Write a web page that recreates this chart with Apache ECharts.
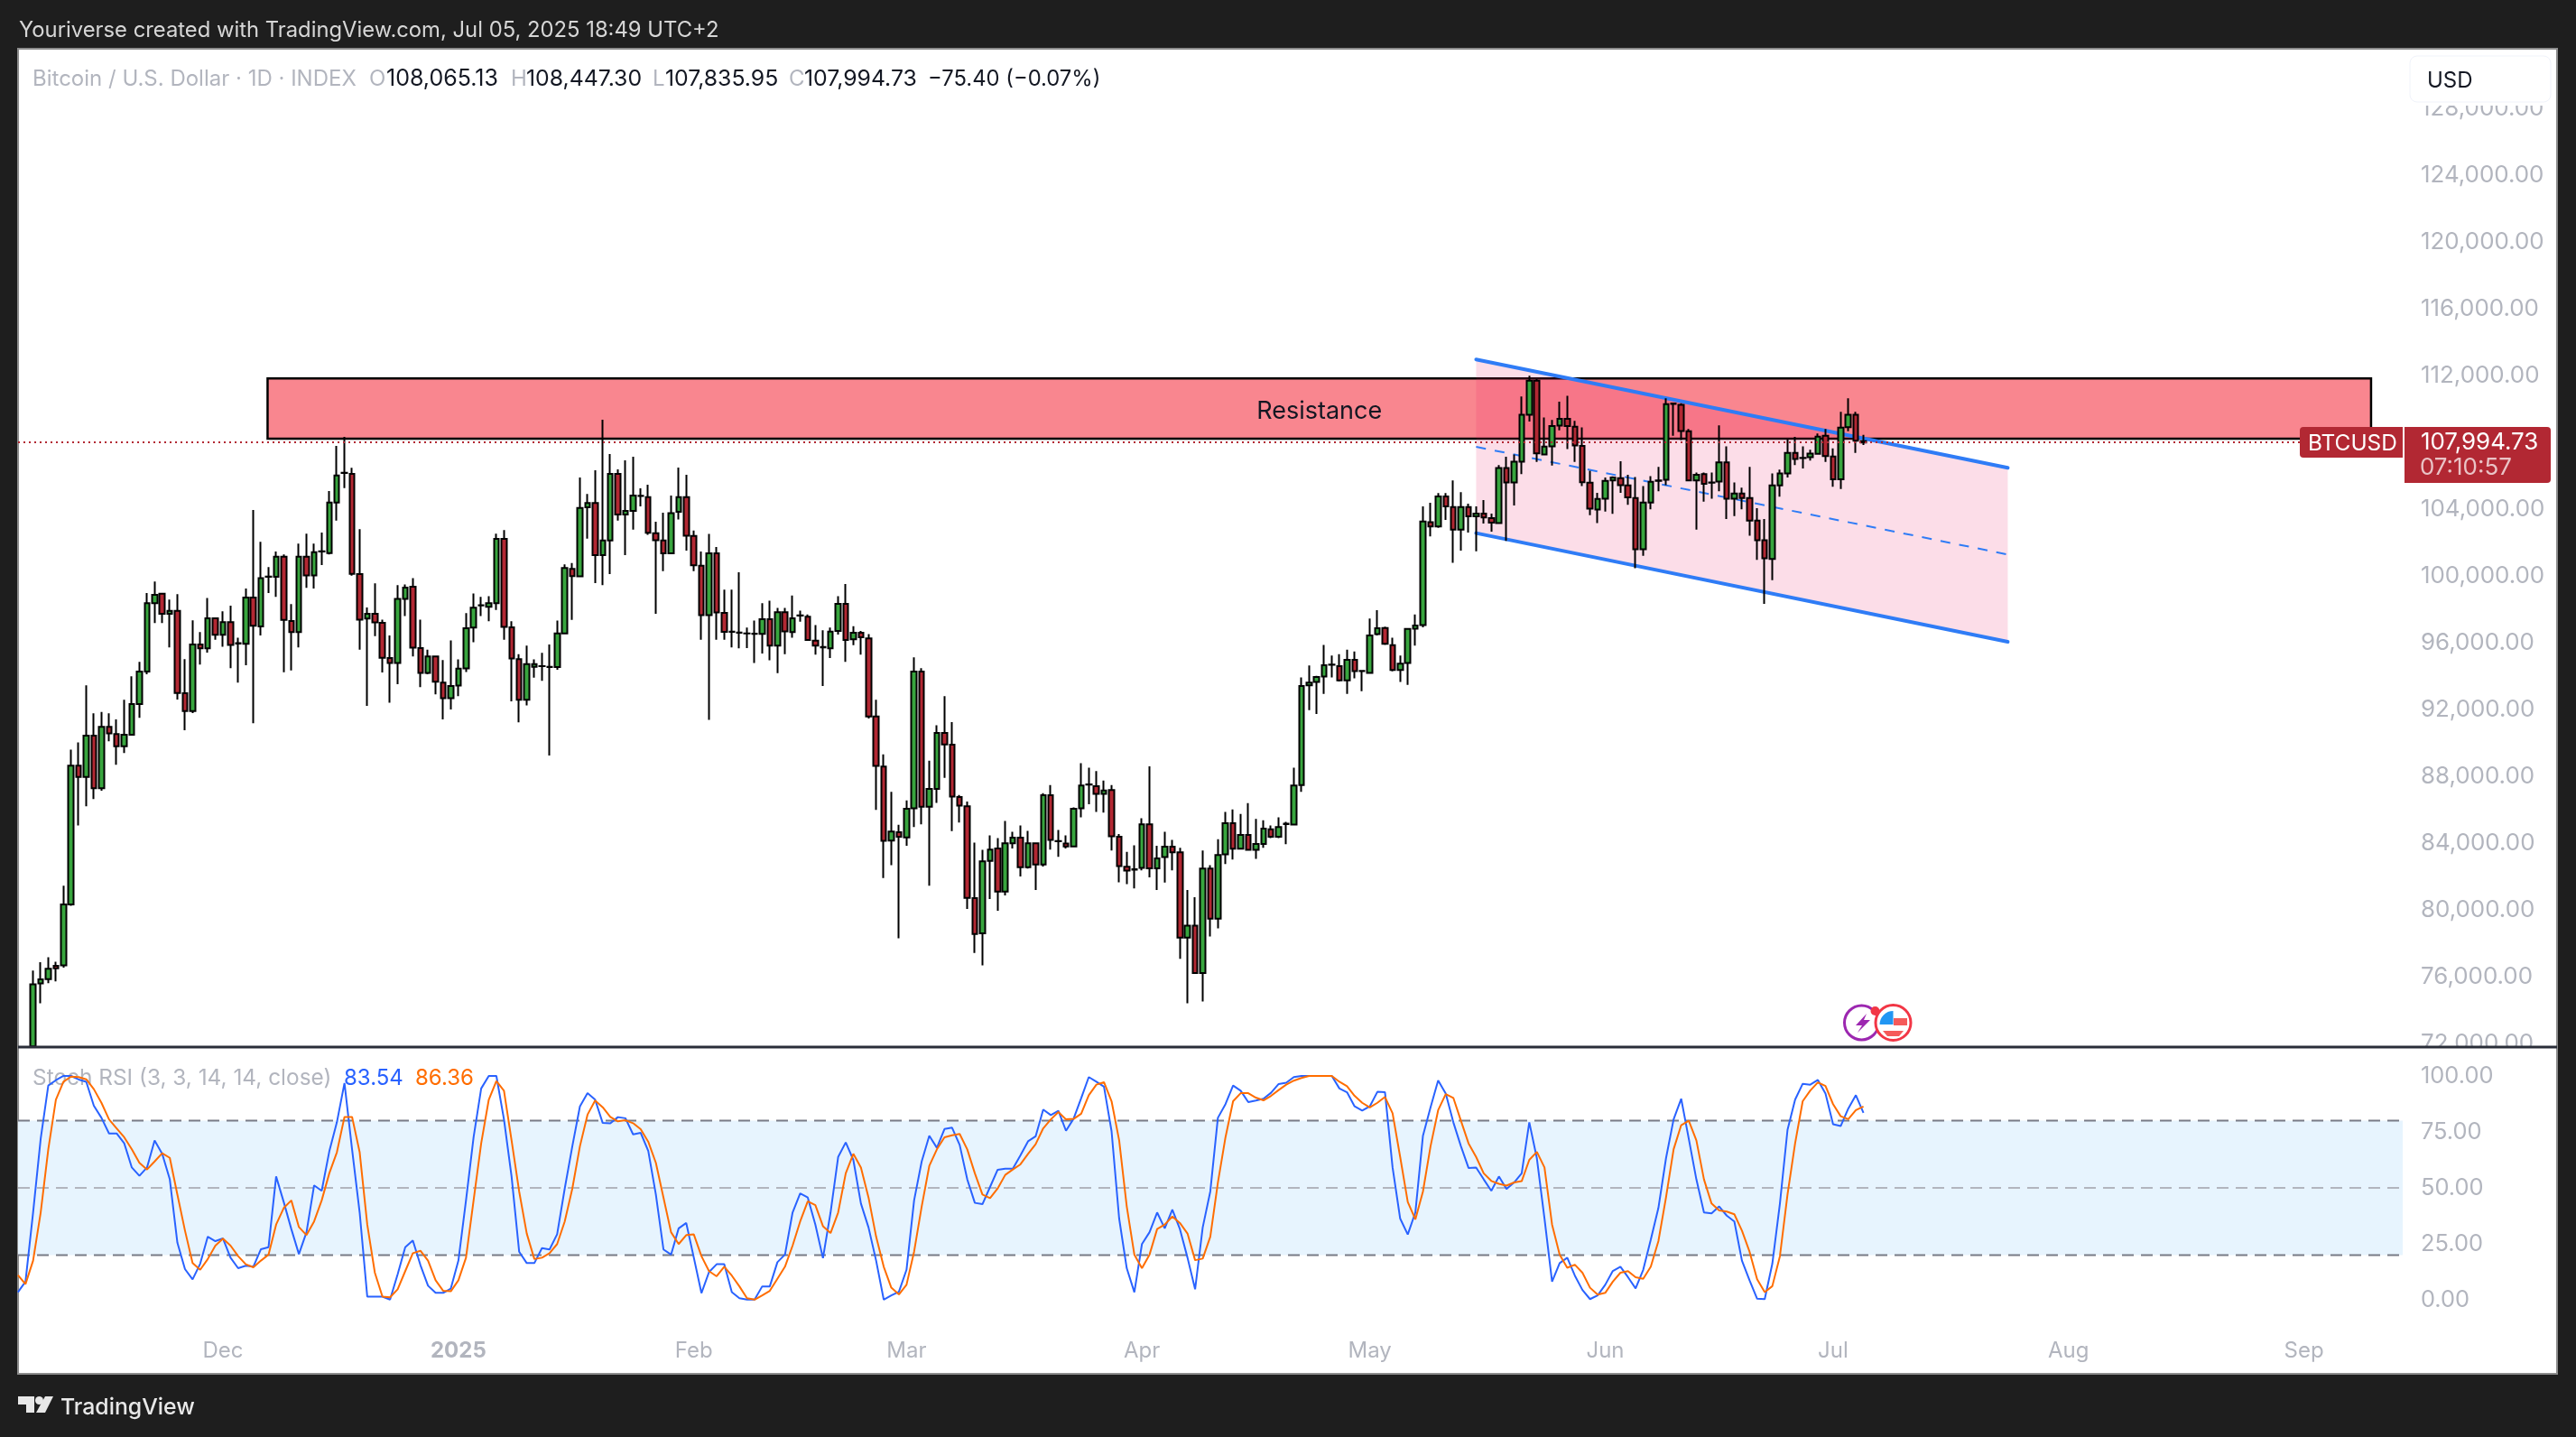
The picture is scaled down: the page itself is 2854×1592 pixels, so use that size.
<!DOCTYPE html>
<html>
<head>
<meta charset="utf-8">
<style>html,body{margin:0;padding:0;background:#1e1e1e}#c{width:2854px;height:1592px}</style>
<script src="https://cdn.jsdelivr.net/npm/echarts@6/dist/echarts.min.js"></script>
</head>
<body>
<div id="c"></div>
<script>
// Candles, [open, close, low, high] in thousands of USD, one row per day from 2024-11-06.
// The first candle's open and low lie below the visible range, so they are held at its lower edge.
const candlesNov = [[71.66,75.38,71.66,76.2],[75.43,75.68,74.25,76.7],[75.69,76.31,75.45,77.0],[76.49,76.34,75.55,76.73],[76.52,80.16,76.38,81.28],[80.16,88.48,80.08,89.44],[88.48,87.8,84.9,89.87],[87.8,90.27,86.04,93.29],[90.27,87.12,86.47,91.61],[87.12,90.8,86.97,91.69],[90.8,90.41,89.93,91.61],[90.37,89.64,88.53,91.24],[89.64,90.33,89.23,92.42],[90.33,92.17,90.29,93.83],[92.17,94.11,91.34,94.69],[94.11,98.21,93.95,98.81],[98.21,98.71,97.01,99.5],[98.77,97.57,97.01,98.77],[97.57,97.74,95.56,98.42],[97.74,92.83,92.44,98.75],[92.81,91.75,90.6,94.86],[91.75,95.73,91.63,97.18],[95.73,95.5,94.53,96.47],[95.5,97.3,95.25,98.52],[97.3,96.31,96.02,97.3]];
const candlesDec = [[96.31,97.07,95.6,97.72],[97.07,95.71,94.32,98.05],[95.79,95.82,93.45,96.14],[95.77,98.54,94.49,99.08],[98.54,96.85,91.01,103.78],[96.81,99.7,96.27,101.88],[99.78,99.8,98.81,100.37],[99.79,100.99,98.59,101.3],[100.99,97.2,94.07,101.13],[97.14,96.47,94.18,98.15],[96.47,100.99,95.56,101.77],[100.99,99.87,99.12,102.37],[99.87,101.26,99.08,101.77],[101.3,101.31,100.49,102.44],[101.2,104.23,101.12,104.92],[104.23,105.86,103.15,107.62],[106.0,106.01,105.1,108.16],[105.95,99.96,99.86,106.31],[99.95,97.22,95.42,102.64],[97.28,97.57,92.05,97.95],[97.57,97.05,96.23,99.39],[97.03,94.94,94.05,97.22],[94.92,94.63,92.25,96.27],[94.63,98.46,93.35,99.29],[98.46,99.14,97.43,99.33],[99.19,95.54,95.02,99.7],[95.52,94.03,93.18,97.22],[94.03,95.02,93.95,95.42],[95.02,93.5,92.75,95.02],[93.45,92.52,91.24,94.8],[92.52,93.25,91.84,95.98]];
const candlesJan = [[93.27,94.28,92.64,94.84],[94.3,96.7,94.09,97.61],[96.74,97.94,95.87,98.79],[98.07,98.08,97.43,98.58],[97.99,98.2,97.12,98.63],[98.2,102.06,97.8,102.37],[102.06,96.79,96.02,102.58],[96.76,94.9,92.33,97.12],[94.86,92.42,91.07,95.15],[92.42,94.55,92.09,95.67],[94.4,94.55,93.74,94.84],[94.43,94.44,93.56,95.23],[94.4,94.38,89.09,95.73],[94.38,96.39,94.22,97.16],[96.39,100.32,96.39,100.53],[100.26,99.83,97.2,100.61],[99.82,103.91,99.82,105.73],[103.95,104.2,102.07,104.74],[104.2,101.08,99.41,106.16],[101.08,101.96,99.29,109.19],[101.96,105.95,99.95,107.14],[105.95,103.51,103.15,106.22],[103.51,103.73,101.08,106.76],[103.73,104.65,102.61,106.97],[104.63,104.64,104.0,105.08],[104.56,102.42,102.3,105.3],[102.39,101.98,97.57,103.08],[101.96,101.19,100.12,103.62],[101.19,103.6,101.19,104.65],[103.68,104.56,103.22,106.33],[104.56,102.25,101.36,105.9]];
const candlesFeb = [[102.23,100.47,100.12,102.56],[100.45,97.49,96.02,101.3],[97.49,101.19,91.22,102.35],[101.19,97.65,96.02,101.57],[97.63,96.49,96.02,99.02],[96.5,96.49,95.56,99.02],[96.45,96.43,95.5,100.05],[96.4,96.39,95.52,96.74],[96.37,96.38,94.63,97.16],[96.37,97.24,95.19,98.21],[97.24,95.67,94.78,98.36],[95.67,97.67,94.01,97.92],[97.67,96.51,95.15,97.92],[96.47,97.3,96.14,98.67],[97.47,97.46,97.1,97.76],[97.4,96.0,96.0,97.53],[95.96,95.67,95.13,96.89],[95.58,95.56,93.24,96.58],[95.5,96.5,94.92,96.74],[96.54,98.17,96.33,98.63],[98.17,96.0,94.69,99.35],[96.04,96.43,95.69,96.83],[96.43,96.16,95.13,96.54],[96.1,91.42,91.3,96.35],[91.42,88.46,85.83,92.42],[88.42,83.97,81.74,89.15],[83.99,84.53,82.52,86.91],[84.49,84.22,78.14,84.94]];
const candlesMar = [[84.18,85.9,83.68,86.39],[85.92,94.11,84.8,94.96],[94.11,86.02,84.96,94.32],[86.02,87.08,81.28,88.77],[87.08,90.43,86.25,90.9],[90.43,89.75,87.74,92.64],[89.73,86.62,84.55,91.09],[86.6,86.08,85.07,86.72],[86.04,80.56,79.9,86.33],[80.54,78.4,77.26,83.87],[78.44,82.75,76.52,83.43],[82.77,83.45,80.49,84.3],[83.52,80.93,79.79,84.14],[80.93,83.83,80.7,85.17],[83.83,84.16,83.52,84.51],[84.16,82.4,81.84,84.9],[82.4,83.83,82.31,84.57],[83.83,82.56,81.03,83.83],[82.56,86.7,82.44,86.83],[86.7,84.03,83.45,87.32],[83.95,83.96,83.02,84.63],[83.81,83.64,83.52,84.3],[83.64,85.9,83.64,85.98],[85.92,87.28,85.38,88.63],[87.34,87.35,86.17,88.36],[87.24,86.79,85.71,88.15],[86.79,86.99,85.67,87.59],[87.01,84.24,83.39,87.32],[84.22,82.46,81.49,84.38],[82.42,82.19,81.38,83.31],[82.25,82.27,81.13,83.7]];
const candlesApr = [[82.36,84.96,82.21,85.32],[84.96,82.32,81.78,88.44],[82.32,82.92,81.03,83.68],[83.0,83.62,81.47,84.51],[83.62,83.29,82.21,84.03],[83.29,78.18,76.91,83.56],[78.18,78.9,74.24,81.03],[78.9,76.06,76.0,80.6],[76.06,82.31,74.35,83.39],[82.31,79.31,78.24,82.52],[79.31,83.12,78.73,84.07],[83.16,85.03,82.58,85.71],[85.03,83.5,82.85,85.85],[83.5,84.32,83.5,85.59],[84.32,83.44,83.44,86.23],[83.44,83.78,82.89,85.28],[83.78,84.7,83.56,85.2],[84.66,84.22,84.14,84.9],[84.22,84.8,84.14,85.38],[84.97,85.0,83.77,85.11],[84.95,87.28,84.95,88.36],[87.32,93.25,86.91,93.76],[93.29,93.45,91.8,94.47],[93.49,93.78,91.57,93.85],[93.81,94.49,92.77,95.71],[94.52,94.53,93.76,95.07],[94.43,93.58,93.52,95.15],[93.58,94.82,92.77,95.42],[94.82,94.14,93.7,95.31],[94.14,94.15,92.93,94.14]];
const candlesMay = [[94.03,96.27,94.03,97.28],[96.35,96.7,96.27,97.78],[96.72,95.77,95.71,96.8],[95.69,94.2,94.12,96.14],[94.2,94.59,93.49,95.07],[94.63,96.66,93.31,96.66],[96.68,96.87,95.67,97.53],[96.89,103.1,96.76,104.0],[103.05,102.8,102.2,104.22],[102.8,104.6,102.72,104.8],[104.6,104.0,103.19,104.8],[103.96,102.61,100.63,105.56],[102.61,103.96,101.35,104.86],[103.96,103.41,102.43,104.17],[103.41,103.57,101.31,104.0],[103.57,103.34,102.98,104.38],[103.3,103.03,102.49,103.57],[103.0,106.3,103.0,106.48],[106.3,105.44,101.94,106.97],[105.44,106.68,104.05,107.11],[106.68,109.49,105.94,110.59],[109.49,111.53,109.09,111.83],[111.53,107.18,106.66,111.62],[107.11,107.58,107.11,109.33],[107.6,108.82,106.45,109.18],[108.84,109.24,108.55,110.27],[109.24,108.81,107.44,110.63],[108.77,107.65,106.66,109.13],[107.62,105.45,105.22,108.73],[105.42,103.87,103.47,106.14],[103.82,104.45,103.0,104.81]];
const candlesJun = [[104.46,105.53,103.69,105.73],[105.55,105.73,103.56,105.8],[105.69,105.27,104.82,106.7],[105.26,104.54,104.1,105.89],[104.5,101.44,100.3,105.76],[101.44,104.23,101.04,105.22],[104.23,105.47,103.83,105.82],[105.55,105.53,104.91,106.37],[105.6,110.12,105.27,110.48],[110.16,110.14,108.23,110.21],[110.09,108.52,107.98,110.18],[108.5,105.55,105.55,108.64],[105.55,105.9,102.61,106.03],[105.94,105.35,104.28,106.03],[105.42,105.43,104.46,106.03],[105.49,106.64,104.91,108.86],[106.64,104.46,103.24,107.6],[104.46,104.77,103.42,105.44],[104.77,104.5,103.83,105.13],[104.5,103.15,102.25,106.37],[103.15,101.98,100.8,103.9],[101.98,100.9,98.17,103.24],[100.86,105.26,99.58,105.98],[105.26,105.98,104.59,106.21],[105.98,107.2,105.73,108.01],[107.2,106.84,106.48,108.16],[106.9,106.91,106.27,107.6],[106.95,107.17,106.75,107.4],[107.15,108.18,107.11,108.37],[108.23,107.02,106.66,108.64]];
const candlesJul = [[106.99,105.62,105.18,107.47],[105.62,108.72,105.04,109.67],[108.75,109.49,108.5,110.48],[109.49,107.94,107.2,109.67],[107.91,107.83,107.68,108.29]];
// The candles were read against the tick labels, which sit slightly above their true level.
const READ_CORRECTION = 0.16;

// Stoch RSI, one value per day from 2024-11-04.
const stochK = [3.4,8.1,39,71.9,95.7,98.1,100,100,98.4,97.4,86.7,81.3,74.3,74.3,69.9,59.1,55.4,59.1,71.2,65.2,53.8,25.5,13.7,9.1,16.1,28.2,26.2,27.4,18.8,14.1,15.2,14.8,22.6,23.5,55.1,43.7,31.6,20.4,30.2,51.1,48.7,66.3,79.3,96.8,67.2,39,1.4,1.4,1.4,0.1,11.4,23.5,26.5,15.5,6.3,3.1,3.1,5,17.5,44.4,72.6,94.4,100,100,80.6,55.1,21.5,16.4,16.4,23.1,22.5,29.3,49.7,68.6,86.4,92.3,89.4,79,78.8,81.6,81.1,73.9,74.6,66.5,47,22.5,20.2,31.9,34.3,18.8,3,12.4,15.9,15.9,3.4,0.7,0.1,0.1,6,6,16.8,20.2,39,47.5,45.7,33.6,18.6,39,63.8,70.3,62.5,43,32.3,17.5,0.1,2,3.6,
13.4,44.4,61.8,73.3,67.9,76.3,76.9,69.2,53.8,43.3,42.7,50.4,58.1,58.6,58.6,64.5,70.8,73,85,82.5,84.4,75.5,80.9,90.1,99.5,97.4,95.2,75.3,36.3,14.1,3.4,24.9,30.2,39,31.9,40.3,31.6,18.8,4.7,32.3,48.4,81.3,87.4,95.7,93.4,88.3,89,89.8,92.5,96.4,97,99.5,100,100,100,100,100,94.4,92.7,86.4,84.5,86.4,92.9,92.7,59.1,36.3,29.2,39,73.3,86,98,92.1,79.3,68.6,58.9,59.1,53.8,48.7,55.1,49.5,52.4,56.5,79.3,63.2,36.3,8.1,16.4,18.8,10.8,4.4,0.3,2,6.7,12.9,14.8,10.1,5.1,13.4,26.9,41,63.2,80.6,89.8,71.9,53.8,39,38.6,41.7,37.6,35,17.5,8.7,0.5,0.3,16.1,43,75.9,89.4,96.5,
96.1,98.2,92.1,78.4,77.6,85.4,91.4,83.54];
const stochD = [11,7,17.5,39,67.2,89.4,97.4,99.7,99.5,98.5,94.1,88,80.6,76.6,72.6,67.2,61.2,58.2,61.8,65.5,63.4,47,30.9,16.4,13.4,18.2,24.2,27.3,24.2,19.5,15.9,14.5,17.5,20.2,33.6,41,44.4,32.5,28.9,35,44.4,56.5,65.9,81.7,81.7,65.9,33.6,12.1,1.4,1.1,4.7,12.8,20.8,21.9,17.5,8.7,4,3.8,8.7,18.8,44.4,69.9,89.4,97.7,93.4,71.2,48.4,29.6,18.2,18.8,20.8,24.9,35,49.7,68.6,82.7,89,86,81.7,79.7,80.2,78.9,76.2,70.6,61.2,45.7,30.2,24.9,28.9,29.2,19.5,12.8,10.5,14.8,10.8,6,0.7,0.1,2,4,9.4,14.8,24.2,35,44,42.3,32.9,29.8,39,56.5,65.2,59.1,45.7,28.2,14.8,5.4,2.4,
6.7,21.5,41.7,59.8,67.2,72.6,73.5,74.1,67.2,56.5,47,45.4,49.7,55.8,58.2,60.5,65.2,69.5,76.6,80.6,83.9,80.6,80.8,83.1,91.4,96.1,97.2,88.7,71.2,41.7,20.2,14.1,20.2,31.6,33.6,37.2,34.3,29.6,17.7,18.4,28.2,52.4,72.6,88.7,92.3,92.3,90.3,89.1,91.1,93.7,96.1,97.9,99.1,100,100,100,100,97.4,95.4,91.1,88,85.9,88,90.6,83.3,63.8,43.7,35.9,48.4,68.6,84.7,91.9,90.2,80,69.9,63.8,56.5,53.1,51.8,51,52.4,53,62.5,66.1,59.1,33.6,20.2,14.3,15.7,12.1,5.4,2.3,3.1,8.1,12.1,12.8,10.1,9.4,14.8,26.2,45.7,67.2,78,80,71.2,53.8,43,39.9,39.4,38.2,30.9,21.5,9.2,3.4,6.1,19.5,47,69.9,88.7,
93.5,97.1,95.5,87.4,82,80.7,84.7,86.36];

const priceTicks = [72000,76000,80000,84000,88000,92000,96000,100000,104000,108000,112000,116000,120000,124000,128000];
const rsiTicks = [0,25,50,75,100];
const monthTicks = ['2024-12-01','2025-01-01','2025-02-01','2025-03-01','2025-04-01','2025-05-01','2025-06-01','2025-07-01','2025-08-01','2025-09-01'];
const monthLabels = ['Dec','2025','Feb','Mar','Apr','May','Jun','Jul','Aug','Sep'];
const lastPrice = 107994.73;
const resistance = {start:'2024-12-06T21:00:00Z', end:'2025-09-09T20:00:00Z', top:111820, bottom:108220};
const channelDates = ['2025-05-15','2025-07-24'];
const channelUpper = [112960,106470];
const channelMid = [107730,101280];
const channelLower = [102560,96050];

const DAY = 86400000;
const T = s => Date.parse(s.length > 10 ? s : s + 'T00:00:00Z');
const xMin = T('2024-12-01') - 26.98 * DAY;
const xMax = T('2024-12-01') + 287 * DAY;
const firstCandle = T('2024-11-06');
const firstRsi = T('2024-11-04');
const allCandles = [].concat(candlesNov,candlesDec,candlesJan,candlesFeb,candlesMar,candlesApr,candlesMay,candlesJun,candlesJul);
const candleData = allCandles.map((r,i) => [firstCandle + i*DAY].concat(r.map(v => Math.round((v + READ_CORRECTION)*1000))));
const kData = stochK.map((v,i) => [firstRsi + i*DAY, v]);
const dData = stochD.map((v,i) => [firstRsi + i*DAY, v]);
const BLUE = '#2f7cf6', FONT = 'Inter';
const twoPoints = (dates, vals) => dates.map((d,i) => [T(d), vals[i]]);
const hline = (v, c, axis, extra) => Object.assign({type:'line', xAxisIndex:axis, yAxisIndex:axis, data:[[xMin,v],[xMax,v]], showSymbol:false, silent:true, z:2, lineStyle:{color:c, width:2, type:[13,8]}}, extra||{});

const txt = (x,y,text,fill,size,extra) => ({type:'text', x, y:y+1.5, z:50, silent:true, style:{text, fill, font:(extra&&extra.weight||'400')+' '+size+'px '+FONT, verticalAlign:'middle', align:(extra&&extra.align)||'left'}});
const muted = '#b2b5be', ink = '#131722';
const graphics = [
  {type:'rect', z:-10, silent:true, shape:{x:20,y:54,width:2813,height:1468}, style:{fill:'#ffffff', stroke:'#8c8c8c', lineWidth:2}},
  txt(21,32,'Youriverse created with TradingView.com, Jul 05, 2025 18:49 UTC+2','#d6d6d6',23.8),
  txt(36,86,'Bitcoin / U.S. Dollar · 1D · INDEX',muted,24),
  txt(409,86,'O',muted,24), txt(428,86,'108,065.13',ink,25),
  txt(566,86,'H',muted,24), txt(583,86,'108,447.30',ink,24.8),
  txt(723,86,'L',muted,24), txt(737,86,'107,835.95',ink,24.8),
  txt(874,86,'C',muted,24), txt(891,86,'107,994.73',ink,24.8),
  txt(1028,86,'−75.40 (−0.07%)',ink,23.8),
  // white covers that hide the labels cut off by the pane divider and by the currency box
  {type:'rect', z:40, silent:true, shape:{x:2664,y:1161,width:165,height:14}, style:{fill:'#ffffff'}},
  {type:'rect', z:40, silent:true, shape:{x:2664,y:105,width:165,height:12}, style:{fill:'#ffffff'}},
  {type:'line', z:41, silent:true, shape:{x1:20,y1:1160,x2:2833,y2:1160}, style:{stroke:'#2a2e39', lineWidth:3}},
  {type:'rect', z:42, silent:true, shape:{x:2670,y:62,width:156,height:51,r:8}, style:{fill:'#ffffff', stroke:'#f0f3fa', lineWidth:1}},
  txt(2689,88,'USD',ink,24),
  {type:'rect', z:43, silent:true, shape:{x:2548,y:473,width:114,height:34,r:[4,0,0,4]}, style:{fill:'#b22833'}},
  txt(2557,490,'BTCUSD','#ffffff',24.4),
  {type:'rect', z:43, silent:true, shape:{x:2664,y:473,width:162,height:62,r:[0,4,4,0]}, style:{fill:'#b22833'}},
  txt(2682,489,'107,994.73','#ffffff',25.9),
  txt(2681,517,'07:10:57','rgba(255,255,255,0.72)',25.9),
  Object.assign(txt(36,1193,'Stoch RSI (3, 3, 14, 14, close)',muted,24.4),{z:1}),
  txt(381,1193,'83.54','#2962ff',24), txt(460,1193,'86.36','#ff6d00',24),
  // footer logo
  {type:'polygon', z:50, silent:true, shape:{points:[[20,1547],[38,1547],[38,1565],[29,1565],[29,1556],[20,1556]]}, style:{fill:'#e8e8e8'}},
  {type:'circle', z:50, silent:true, shape:{cx:43.5,cy:1551.5,r:4.5}, style:{fill:'#e8e8e8'}},
  {type:'polygon', z:50, silent:true, shape:{points:[[50,1547],[59,1547],[50,1565],[40,1565]]}, style:{fill:'#e8e8e8'}},
  txt(67,1558,'TradingView','#e8e8e8',24.8,{weight:'500'}),
  // event markers near the time axis
  {type:'circle', z:44, silent:true, shape:{cx:2062.5,cy:1133,r:19}, style:{fill:'#ffffff', stroke:'#9c27b0', lineWidth:3}},
  {type:'polygon', z:44, silent:true, shape:{points:[[2068,1123],[2056,1136],[2063,1136],[2058,1144],[2072,1130],[2065,1130]]}, style:{fill:'#9c27b0'}},
  {type:'circle', z:45, silent:true, shape:{cx:2097.5,cy:1133,r:19.5}, style:{fill:'#ffffff', stroke:'#f23645', lineWidth:3}},
  {type:'sector', z:45, silent:true, shape:{cx:2097.5,cy:1135,r:15,startAngle:Math.PI,endAngle:Math.PI*1.5}, style:{fill:'#2196f3'}},
  {type:'rect', z:45, silent:true, shape:{x:2098,y:1128,width:15,height:8}, style:{fill:'#f55a5a'}},
  {type:'polygon', z:45, silent:true, shape:{points:[[2086,1142],[2109,1142],[2104,1148],[2091,1148]]}, style:{fill:'#f55a5a'}},
  {type:'circle', z:46, silent:true, shape:{cx:2077.5,cy:1120,r:5}, style:{fill:'#f23645'}},
];

const chart = echarts.init(document.getElementById('c'), null, {renderer:'canvas', width:2854, height:1592, devicePixelRatio:1});
// Time runs on a numeric axis in milliseconds, so that the month ticks can be placed exactly.
const baseX = {type:'value', min:xMin, max:xMax, axisLine:{show:false}, axisTick:{show:false}, splitLine:{show:false}};
chart.setOption({
  animation:false,
  backgroundColor:'#1e1e1e',
  tooltip:{show:false},
  graphic:{elements:graphics},
  grid:[
    {left:20, top:54, width:2642, height:1106},
    {left:20, top:1160, width:2642, height:312}
  ],
  xAxis:[
    Object.assign({gridIndex:0, axisLabel:{show:false}}, baseX),
    Object.assign({gridIndex:1, axisLabel:{
      customValues:monthTicks.map(T), margin:13, color:muted, fontFamily:FONT, fontSize:24, hideOverlap:false,
      formatter:v => { const i = monthTicks.map(T).indexOf(v); const s = monthLabels[i]; return s === '2025' ? '{y|2025}' : s; },
      rich:{y:{color:muted, fontFamily:FONT, fontSize:24, fontWeight:700}}
    }}, baseX)
  ],
  yAxis:[
    {gridIndex:0, type:'value', position:'right', min:71784, max:131568, axisLine:{show:false}, axisTick:{show:false}, splitLine:{show:false},
     axisLabel:{customValues:priceTicks, margin:20, color:muted, fontFamily:FONT, fontSize:25.9, padding:[0,0,6,0],
       formatter:v => v.toLocaleString('en-US',{minimumFractionDigits:2, maximumFractionDigits:2})}},
    {gridIndex:1, type:'value', position:'right', min:-12.9, max:112.9, axisLine:{show:false}, axisTick:{show:false}, splitLine:{show:false},
     axisLabel:{customValues:rsiTicks, margin:20, color:muted, fontFamily:FONT, fontSize:25.4, padding:[5,0,0,0], formatter:v => v.toFixed(2)}}
  ],
  series:[
    {type:'custom', name:'Resistance', xAxisIndex:0, yAxisIndex:0, z:1, silent:true, clip:true,
     encode:{x:[0,1], y:[2,3]},
     data:[[T(resistance.start),T(resistance.end),resistance.top,resistance.bottom]],
     renderItem:(p,api) => {
       const a = api.coord([api.value(0),api.value(2)]), b = api.coord([api.value(1),api.value(3)]);
       return {type:'group', children:[
         {type:'rect', shape:{x:a[0],y:a[1],width:b[0]-a[0],height:b[1]-a[1]}, style:{fill:'#f9868f', stroke:'#000000', lineWidth:2.5}},
         {type:'text', style:{text:'Resistance', x:(a[0]+b[0])/2, y:(a[1]+b[1])/2+3, align:'center', verticalAlign:'middle', fill:ink, font:'27px '+FONT}}
       ]};
     }},
    {type:'custom', name:'Channel', xAxisIndex:0, yAxisIndex:0, z:2, silent:true, clip:true,
     encode:{x:[0,1], y:[2,3,4,5]},
     data:[[T(channelDates[0]),T(channelDates[1]),channelUpper[0],channelUpper[1],channelLower[0],channelLower[1]]],
     renderItem:(p,api) => ({type:'polygon', shape:{points:[
        api.coord([api.value(0),api.value(2)]), api.coord([api.value(1),api.value(3)]),
        api.coord([api.value(1),api.value(5)]), api.coord([api.value(0),api.value(4)])]},
        style:{fill:'rgba(233,30,99,0.15)'}})},
    {type:'line', name:'Channel upper', xAxisIndex:0, yAxisIndex:0, z:3, silent:true, showSymbol:false, data:twoPoints(channelDates,channelUpper), lineStyle:{color:BLUE,width:4,cap:'round'}},
    {type:'line', name:'Channel lower', xAxisIndex:0, yAxisIndex:0, z:3, silent:true, showSymbol:false, data:twoPoints(channelDates,channelLower), lineStyle:{color:BLUE,width:4,cap:'round'}},
    {type:'line', name:'Channel middle', xAxisIndex:0, yAxisIndex:0, z:3, silent:true, showSymbol:false, data:twoPoints(channelDates,channelMid), lineStyle:{color:BLUE,width:2,type:[11,10]}},
    {type:'candlestick', name:'BTCUSD', xAxisIndex:0, yAxisIndex:0, z:4, silent:true, large:false, barWidth:6,
     encode:{x:0, y:[1,2,3,4]}, data:candleData,
     itemStyle:{color:'#38a53e', color0:'#b22833', borderColor:'#000000', borderColor0:'#000000', borderColorDoji:'#000000', borderWidth:2}},
    {type:'line', name:'Last price', xAxisIndex:0, yAxisIndex:0, z:5, silent:true, showSymbol:false, data:[[xMin,lastPrice],[xMax,lastPrice]], lineStyle:{color:'#b22833',width:2,type:[2,4]}},
    {type:'custom', name:'RSI band', xAxisIndex:1, yAxisIndex:1, z:1, silent:true, clip:true,
     encode:{x:[0,1], y:[2,3]},
     data:[[xMin,xMax,80,20]],
     renderItem:(p,api) => { const a = api.coord([api.value(0),api.value(2)]), b = api.coord([api.value(1),api.value(3)]);
       return {type:'rect', shape:{x:a[0],y:a[1],width:b[0]-a[0],height:b[1]-a[1]}, style:{fill:'#e7f4fe'}}; }},
    hline(80,'#787b86',1), hline(50,'#b2b5be',1), hline(20,'#787b86',1),
    {type:'line', name:'%K', xAxisIndex:1, yAxisIndex:1, z:3, silent:true, showSymbol:false, data:kData, lineStyle:{color:'#2962ff',width:2}},
    {type:'line', name:'%D', xAxisIndex:1, yAxisIndex:1, z:3, silent:true, showSymbol:false, data:dData, lineStyle:{color:'#ff6d00',width:2}}
  ]
});
</script>
</body>
</html>
